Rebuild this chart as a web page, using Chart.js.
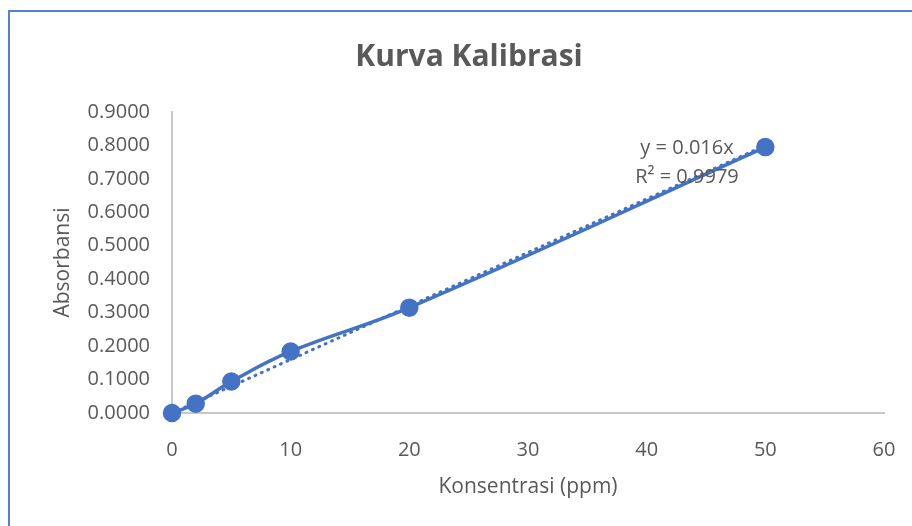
<!DOCTYPE html>
<html>
<head>
<meta charset="utf-8">
<script src="https://cdn.jsdelivr.net/npm/chart.js@4.4.1/dist/chart.umd.min.js"></script>
<style>
  html, body { margin: 0; padding: 0; background: #fff; }
  #wrap { position: relative; width: 912px; height: 526px; overflow: hidden; }
  #frame { position: absolute; left: 8px; top: 10px; width: 1000px; height: 600px;
           border-top: 2px solid #5b80d2; border-left: 2px solid #5b80d2; }
  canvas { position: absolute; left: 0; top: 0; }
</style>
</head>
<body>
<div id="wrap">
  <div id="frame"></div>
  <canvas id="grafica" width="912" height="526"></canvas>
</div>
<script>
// data kurva kalibrasi
const konsentrasi = [0, 2, 5, 10, 20, 50];
const absorbansi = [0.0000, 0.0280, 0.0940, 0.1840, 0.3150, 0.7950];
// garis tren
const trenX = [0, 50];
const trenY = [0, 0.8];
const labelTren = ['y = 0.016x', 'R\u00b2 = 0.9979'];
const posLabel = { x: 43.4, y: 0.79 };

const abu = '#595959';
const biru = '#4472c4';
const huruf = "'Open Sans', sans-serif";

const teksTren = {
  id: 'teksTren',
  afterDatasetsDraw(chart) {
    const ctx = chart.ctx;
    const px = chart.scales.x.getPixelForValue(posLabel.x);
    const py = chart.scales.y.getPixelForValue(posLabel.y);
    ctx.save();
    ctx.fillStyle = abu;
    ctx.font = '20px ' + huruf;
    ctx.textAlign = 'center';
    ctx.textBaseline = 'middle';
    ctx.fillText(labelTren[0], px, py);
    ctx.fillText(labelTren[1], px, py + 29);
    ctx.restore();
  }
};

const ctx = document.getElementById('grafica').getContext('2d');
const myChart = new Chart(ctx, {
  type: 'scatter',
  data: {
    datasets: [
      {
        label: 'Absorbansi',
        data: konsentrasi.map((k, i) => ({ x: k, y: absorbansi[i] })),
        showLine: true,
        tension: 0.4,
        clip: false,
        borderColor: biru,
        backgroundColor: biru,
        borderWidth: 3.5,
        pointRadius: 7.5,
        pointHoverRadius: 7.5
      },
      {
        label: 'Tren',
        data: trenX.map((k, i) => ({ x: k, y: trenY[i] })),
        showLine: true,
        clip: false,
        borderColor: biru,
        borderWidth: 3,
        borderDash: [1, 6],
        borderCapStyle: 'round',
        pointRadius: 0
      }
    ]
  },
  options: {
    responsive: false,
    animation: false,
    layout: { padding: { left: 54, right: 28, top: 0, bottom: 0 } },
    plugins: {
      legend: { display: false },
      tooltip: { enabled: false },
      title: {
        display: true,
        text: 'Kurva Kalibrasi',
        color: abu,
        font: { family: huruf, size: 30, weight: 'bold', lineHeight: 1.2 },
        padding: { top: 39, bottom: 37 }
      }
    },
    scales: {
      x: {
        type: 'linear',
        min: 0, max: 60,
        ticks: { stepSize: 10, color: abu, padding: 25, font: { family: huruf, size: 20 } },
        grid: { display: false, drawTicks: false },
        border: { display: true, color: '#c8c8c8', width: 2 },
        title: { display: true, text: 'Konsentrasi (ppm)', color: abu,
                 font: { family: huruf, size: 21 }, padding: { top: 0, bottom: 26 } },
        afterFit(scale) {
          scale.height = 113;
          scale.paddingLeft = 0;
          scale.paddingRight = 0;
        }
      },
      y: {
        min: 0, max: 0.9,
        ticks: { stepSize: 0.1, color: abu, padding: 22, font: { family: huruf, size: 20 },
                 callback: v => v.toFixed(4) },
        grid: { display: false, drawTicks: false },
        border: { display: true, color: '#c8c8c8', width: 2 },
        title: { display: true, text: 'Absorbansi', color: abu,
                 font: { family: huruf, size: 21 }, padding: { top: -4, bottom: 0 } },
        afterFit(scale) { scale.width = 118; }
      }
    }
  },
  plugins: [teksTren]
});
</script>
</body>
</html>
